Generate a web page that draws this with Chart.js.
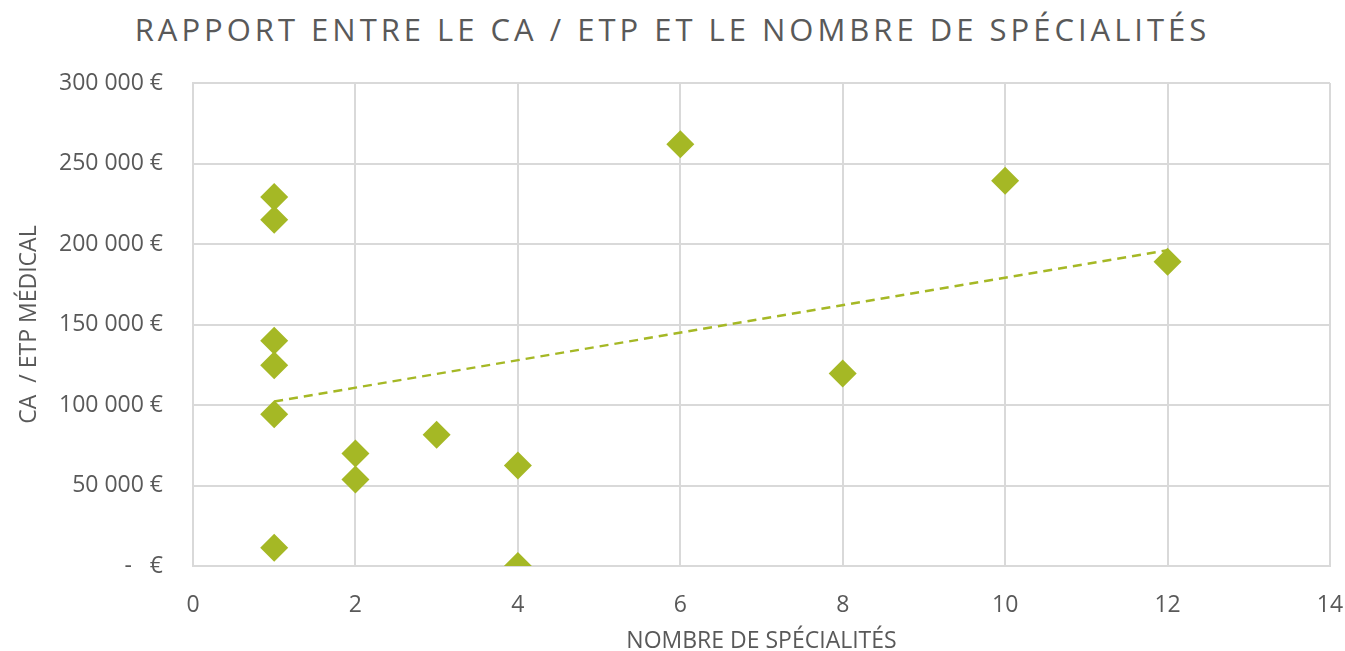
<!DOCTYPE html>
<html lang="fr">
<head>
<meta charset="utf-8">
<title>Rapport entre le CA / ETP et le nombre de spécialités</title>
<script src="https://cdn.jsdelivr.net/npm/chart.js@4/dist/chart.umd.min.js"></script>
<style>
  html, body { margin: 0; padding: 0; background: #fff; }
  #wrap { position: relative; width: 1345px; height: 651px; }
  #title {
    position: absolute; left: 0; top: 8px; width: 1345px; text-align: center;
    font-family: "Open Sans", sans-serif; font-size: 31px; letter-spacing: 4px;
    color: #595959; white-space: nowrap;
  }
  canvas { position: absolute; left: 0; top: 0; }
</style>
</head>
<body>
<div id="wrap">
  <div id="title">RAPPORT ENTRE LE CA / ETP ET LE NOMBRE DE SPÉCIALITÉS</div>
  <canvas id="chart" width="1345" height="651"></canvas>
</div>
<script>
// nombre de spécialités (x) et CA / ETP médical (y)
const specialites = [1, 1, 1, 1, 1, 1, 2, 2, 3, 4, 4, 6, 8, 10, 12];
const caParEtp = [229200, 215100, 139900, 124700, 94200, 11400, 69900, 53700, 81500, 62400, 0, 262000, 119600, 239300, 189000];

const X_TICKS = [0, 2, 4, 6, 8, 10, 12, 14];
const Y_TICKS = [0, 50000, 100000, 150000, 200000, 250000, 300000];

const GREEN = '#A5B825';
const TEXT = '#595959';
const GRID = '#D9D9D9';
const FONT = '"Open Sans", sans-serif';

function formatEuro(v) {
  if (v === 0) return '-   €';
  return String(v).replace(/\B(?=(\d{3})+(?!\d))/g, ' ') + ' €';
}

// courbe de tendance linéaire (moindres carrés), comme dans Excel
function linearTrend(xs, ys) {
  const n = xs.length;
  const mx = xs.reduce((a, b) => a + b, 0) / n;
  const my = ys.reduce((a, b) => a + b, 0) / n;
  let sxy = 0, sxx = 0;
  for (let i = 0; i < n; i++) {
    sxy += (xs[i] - mx) * (ys[i] - my);
    sxx += (xs[i] - mx) * (xs[i] - mx);
  }
  const slope = sxy / sxx;
  const icpt = my - slope * mx;
  const x0 = Math.min(...xs), x1 = Math.max(...xs);
  return [{ x: x0, y: icpt + slope * x0 }, { x: x1, y: icpt + slope * x1 }];
}

const points = specialites.map((x, i) => ({ x, y: caParEtp[i] }));
const trend = linearTrend(specialites, caParEtp);

new Chart(document.getElementById('chart'), {
  type: 'scatter',
  data: {
    datasets: [
      {
        label: 'Tendance',
        type: 'line',
        data: trend,
        borderColor: GREEN,
        borderWidth: 2.5,
        borderDash: [9, 6],
        pointRadius: 0,
        fill: false,
        order: 2
      },
      {
        label: 'CA / ETP',
        data: points,
        pointStyle: 'rectRot',
        pointRadius: 14,
        pointHoverRadius: 14,
        backgroundColor: GREEN,
        borderColor: GREEN,
        borderWidth: 0,
        order: 1
      }
    ]
  },
  options: {
    responsive: false,
    animation: false,
    layout: { padding: { top: 83, right: 15, bottom: 0, left: 16 } },
    plugins: {
      legend: { display: false },
      title: { display: false },
      tooltip: { enabled: false }
    },
    scales: {
      x: {
        type: 'linear',
        min: 0, max: 14,
        afterBuildTicks: (s) => { s.ticks = X_TICKS.map(v => ({ value: v })); },
        afterFit: (s) => { s.height = 85; s.paddingLeft = 0; s.paddingRight = 0; },
        grid: { color: GRID, lineWidth: 2, drawTicks: false },
        border: { color: GRID, width: 2 },
        ticks: { color: TEXT, font: { family: FONT, size: 23 }, padding: 26 },
        title: {
          display: true, text: 'NOMBRE DE SPÉCIALITÉS', color: TEXT,
          font: { family: FONT, size: 23 }, padding: { top: 4, bottom: -4 }
        }
      },
      y: {
        type: 'linear',
        min: 0, max: 300000,
        afterBuildTicks: (s) => { s.ticks = Y_TICKS.map(v => ({ value: v })); },
        afterFit: (s) => { s.width = 177; s.paddingTop = 0; s.paddingBottom = 0; },
        grid: { color: GRID, lineWidth: 2, drawTicks: false },
        border: { color: GRID, width: 2 },
        ticks: { color: TEXT, font: { family: FONT, size: 23 }, padding: 30, callback: (v) => formatEuro(v) },
        title: {
          display: true, text: 'CA  / ETP MÉDICAL', color: TEXT,
          font: { family: FONT, size: 23 }, padding: { top: 0, bottom: 0 }
        }
      }
    }
  }
});
</script>
</body>
</html>
